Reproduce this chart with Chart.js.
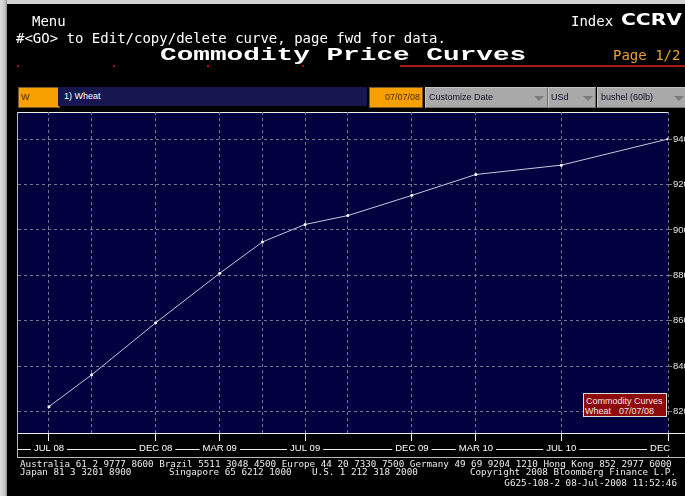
<!DOCTYPE html>
<html>
<head>
<meta charset="utf-8">
<script src="https://cdn.jsdelivr.net/npm/chart.js"></script>
<style>
html, body { margin: 0; padding: 0; background: #000; width: 685px; height: 496px; overflow: hidden; }
#wrap { position: relative; width: 685px; height: 496px; overflow: hidden; background: #000; }
#chart { position: absolute; left: 0; top: 0; }
.t { position: absolute; white-space: pre; color: #fff; line-height: 1; }
.mono { font-family: "DejaVu Sans Mono", monospace; font-size: 14px; }
.foot { font-family: "DejaVu Sans Mono", monospace; font-size: 9.25px; color: #ececec; }
.box { position: absolute; top: 87px; height: 19px; line-height: 19px; font-family: "Liberation Sans", Arial, sans-serif; font-size: 9px; box-sizing: content-box; white-space: pre; overflow: hidden; }
.orange { background: #f7a000; border: 1px solid #7a5a20; color: #4a2a00; }
.grey { background: #a9a9a9; border: 1px solid #c8c8c8; border-right-color: #707070; border-bottom-color: #707070; color: #10102a; }
.arrow { position: absolute; top: 8px; width: 0; height: 0; border-left: 5px solid transparent; border-right: 5px solid transparent; border-top: 5px solid #7c7c7c; }
.dot { position: absolute; top: 65px; width: 2px; height: 2px; background: #c00000; }
</style>
</head>
<body>
<div id="wrap">
  <canvas id="chart" width="700" height="496"></canvas>

  <!-- screen frame -->
  <div style="position:absolute;left:0;top:0;width:685px;height:4px;background:#d2d2d2;"></div>
  <div style="position:absolute;left:0;top:0;width:7px;height:496px;background:linear-gradient(to right,#dcdcdc,#c6c6c6 70%,#8c8c8c);"></div>

  <!-- header -->
  <div class="t mono" style="left:32px;top:14px;">Menu</div>
  <div class="t mono" style="left:16px;top:31px;">#&lt;GO&gt; to Edit/copy/delete curve, page fwd for data.</div>
  <div class="t mono" style="left:571px;top:14px;">Index</div>
  <div class="t" style="left:621px;top:13px;font-family:'DejaVu Sans',sans-serif;font-weight:bold;font-size:15px;transform:scaleX(1.35);transform-origin:left top;">CCRV</div>
  <div class="t" style="left:160px;top:46px;font-family:'Liberation Mono','Courier New',monospace;font-weight:bold;font-size:19px;transform:scaleX(1.46);transform-origin:left top;">Commodity Price Curves</div>
  <div class="t mono" style="left:613px;top:48px;color:#e8a030;">Page 1/2</div>
  <div style="position:absolute;left:400px;top:65px;width:285px;height:2px;background:#a81a1a;"></div>
  <div class="dot" style="left:17px;"></div>
  <div class="dot" style="left:113px;"></div>
  <div class="dot" style="left:207px;"></div>
  <div class="dot" style="left:302px;"></div>

  <!-- selector row -->
  <div class="box orange" style="left:18px;width:38px;padding-left:2px;">W</div>
  <div class="box" style="left:58px;width:303px;padding-left:6px;background:#17164e;color:#fff;">1) Wheat</div>
  <div class="box orange" style="left:369px;width:50px;padding-right:2px;text-align:right;">07/07/08</div>
  <div class="box grey" style="left:425px;width:118px;padding-left:3px;">Customize Date<div class="arrow" style="left:108px;"></div></div>
  <div class="box grey" style="left:548px;width:44px;padding-left:2px;">USd<div class="arrow" style="left:34px;"></div></div>
  <div class="box grey" style="left:597px;width:92px;padding-left:3px;">bushel (60lb)<div class="arrow" style="left:76px;"></div></div>

  <!-- curve label -->
  <div style="position:absolute;left:583px;top:393px;width:82px;height:22px;background:#8c0a0a;border:1px solid #dcdcdc;font-family:'Liberation Sans',Arial,sans-serif;font-size:9px;line-height:10px;color:#f6e2e2;white-space:pre;"><span style="position:absolute;left:2px;top:2px;">Commodity Curves</span><span style="position:absolute;left:1px;top:12px;">Wheat</span><span style="position:absolute;left:35px;top:12px;">07/07/08</span></div>

  <!-- footer -->
  <div class="t foot" style="left:20px;top:459px;">Australia 61 2 9777 8600 Brazil 5511 3048 4500 Europe 44 20 7330 7500 Germany 49 69 9204 1210 Hong Kong 852 2977 6000</div>
  <div class="t foot" style="left:20px;top:467px;">Japan 81 3 3201 8900</div>
  <div class="t foot" style="left:169px;top:467px;">Singapore 65 6212 1000</div>
  <div class="t foot" style="left:312px;top:467px;">U.S. 1 212 318 2000</div>
  <div class="t foot" style="right:9px;top:467px;">Copyright 2008 Bloomberg Finance L.P.</div>
  <div class="t foot" style="right:8px;top:478px;">G625-108-2 08-Jul-2008 11:52:46</div>
</div>

<script>
// contract months counted from JUL 08
var contractMonths = [0, 2, 5, 8, 10, 12, 14, 17, 20, 24, 29];
var contractNames = ['JUL 08', 'SEP 08', 'DEC 08', 'MAR 09', 'MAY 09', 'JUL 09', 'SEP 09', 'DEC 09', 'MAR 10', 'JUL 10', 'DEC 10'];
var wheatPrices = [822.2, 836.2, 859.1, 880.9, 894.7, 902.4, 906.3, 915.2, 924.4, 928.5, 940.0];

// labelled months on the date axis
var axisMonths = [0, 5, 8, 12, 17, 20, 24, 29];
var axisLabels = ['JUL 08', 'DEC 08', 'MAR 09', 'JUL 09', 'DEC 09', 'MAR 10', 'JUL 10', 'DEC      '];

var priceTicks = [820, 840, 860, 880, 900, 920, 940];

Chart.defaults.font.family = "'Liberation Sans', Arial, sans-serif";

var gridGrey = '#78788c';

// navy plot background and the white frame / axis strip lines
var bloombergFrame = {
    id: 'bloombergFrame',
    beforeDraw: function(chart) {
        var ctx = chart.ctx;
        var a = chart.chartArea;
        var band = chart.scales.x2;
        var mid = Math.round(band.top + 8 + 2 + 5.7) + 0.5;
        ctx.save();
        ctx.fillStyle = '#02003f';
        ctx.fillRect(a.left, a.top, a.right - a.left, a.bottom - a.top);
        ctx.lineWidth = 1;
        ctx.strokeStyle = '#ececec';
        ctx.beginPath();
        ctx.moveTo(a.left - 1, a.top + 0.5);
        ctx.lineTo(a.right, a.top + 0.5);
        ctx.moveTo(a.right, band.top + 0.5);
        ctx.lineTo(chart.width, band.top + 0.5);
        ctx.moveTo(a.left, mid);
        ctx.lineTo(a.right, mid);
        ctx.stroke();
        ctx.strokeStyle = '#b8b8b8';
        ctx.beginPath();
        ctx.moveTo(a.left - 0.5, a.top);
        ctx.lineTo(a.left - 0.5, band.bottom);
        ctx.moveTo(a.left - 1, band.bottom - 0.5);
        ctx.lineTo(chart.width, band.bottom - 0.5);
        ctx.moveTo(a.right + 0.5, mid);
        ctx.lineTo(a.right + 0.5, band.bottom);
        ctx.stroke();
        ctx.restore();
    }
};

var wheatChart = new Chart(document.getElementById('chart'), {
    type: 'line',
    data: {
        labels: contractNames,
        datasets: [
            {
                label: 'Wheat',
                data: contractMonths.map(function(m, i) { return { x: m, y: wheatPrices[i] }; }),
                borderColor: '#c8c8dc',
                borderWidth: 1,
                pointRadius: 1.5,
                pointBackgroundColor: '#ffffff',
                pointBorderWidth: 0,
                tension: 0
            }
        ]
    },
    options: {
        responsive: false,
        animation: false,
        devicePixelRatio: 1,
        layout: { padding: { left: 18, right: 12, top: 112, bottom: 38 } },
        plugins: { legend: { display: false }, tooltip: { enabled: false } },
        scales: {
            x: {
                type: 'linear',
                position: 'bottom',
                min: -1.45,
                max: 29,
                afterBuildTicks: function(scale) {
                    scale.ticks = contractMonths.map(function(m) { return { value: m }; });
                },
                afterFit: function(scale) { scale.height = 0; },
                ticks: { display: false },
                grid: { color: gridGrey, drawTicks: false, lineWidth: 1 },
                border: { display: false, dash: [3, 3] }
            },
            x2: {
                type: 'linear',
                position: 'bottom',
                min: -1.45,
                max: 29,
                afterBuildTicks: function(scale) {
                    scale.ticks = axisMonths.map(function(m) { return { value: m }; });
                },
                afterFit: function(scale) { scale.height = 25; },
                ticks: {
                    autoSkip: false,
                    maxRotation: 0,
                    minRotation: 0,
                    padding: 2,
                    color: '#ffffff',
                    font: { size: 9.5 },
                    showLabelBackdrop: true,
                    backdropColor: '#000000',
                    backdropPadding: { left: 3, right: 3, top: 1, bottom: 1 },
                    callback: function(value) {
                        var i = axisMonths.indexOf(value);
                        return i >= 0 ? axisLabels[i] : '';
                    }
                },
                grid: { drawOnChartArea: false, drawTicks: true, tickLength: 8, tickColor: '#ffffff', tickWidth: 1 },
                border: { display: true, color: '#ececec', width: 1 }
            },
            y: {
                type: 'linear',
                position: 'right',
                min: 810.6,
                max: 951.9,
                afterBuildTicks: function(scale) {
                    scale.ticks = priceTicks.map(function(v) { return { value: v }; });
                },
                afterFit: function(scale) { scale.width = 20; },
                ticks: { color: '#e6e6e6', font: { size: 9.5 }, padding: 1 },
                grid: { color: gridGrey, tickLength: 4, tickColor: gridGrey, tickBorderDash: [] },
                border: { display: false, dash: [3, 3] }
            }
        }
    },
    plugins: [bloombergFrame]
});
</script>
</body>
</html>
